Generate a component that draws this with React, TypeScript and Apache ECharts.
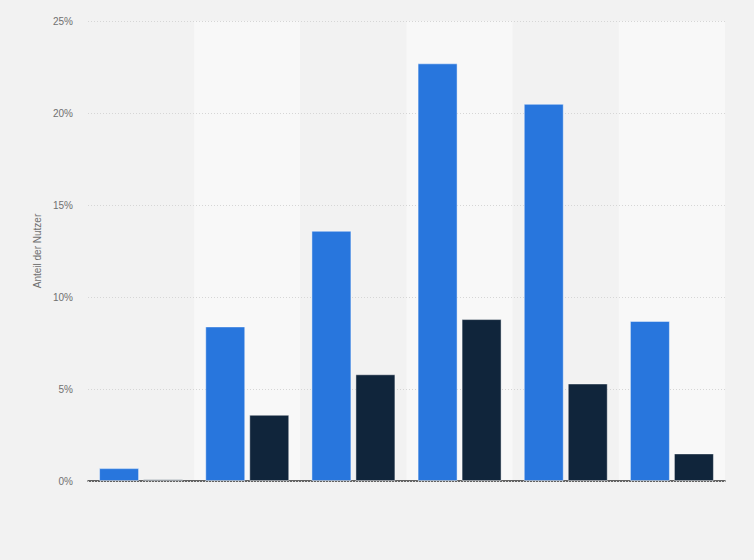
import { useEffect, useRef } from 'react';
import * as echarts from 'echarts';

// categories have no visible labels in the chart
const categories = ['A', 'B', 'C', 'D', 'E', 'F'];
const seriesOne = [0.7, 8.4, 13.6, 22.7, 20.5, 8.7];
const seriesTwo = [0.1, 3.6, 5.8, 8.8, 5.3, 1.5];

const App = () => {
    const chartRef = useRef<HTMLDivElement>(null);

    useEffect(() => {
        if (!chartRef.current) return;
        const chart = echarts.init(chartRef.current, undefined, { renderer: 'svg' });

        chart.setOption({
            animation: false,
            backgroundColor: '#f2f2f2',
            grid: { left: 88, right: 29, top: 21, bottom: 79 },
            xAxis: {
                type: 'category',
                data: categories,
                z: 0,
                axisLabel: { show: false },
                axisTick: { show: false },
                axisLine: { lineStyle: { color: '#333333', width: 1.5 } },
                splitArea: { show: true, areaStyle: { color: ['#f2f2f2', '#f8f8f8'] } }
            },
            yAxis: {
                type: 'value',
                min: 0,
                max: 25,
                interval: 5,
                z: 1,
                name: 'Anteil der Nutzer',
                nameLocation: 'middle',
                nameGap: 43,
                nameTextStyle: { color: '#707070', fontSize: 10, fontFamily: 'Arial, Liberation Sans, sans-serif' },
                axisLabel: {
                    formatter: '{value}%',
                    color: '#707070',
                    fontSize: 10,
                    margin: 15,
                    fontFamily: 'Arial, Liberation Sans, sans-serif'
                },
                axisLine: { show: false },
                axisTick: { show: false },
                splitLine: { lineStyle: { color: '#d6d6d6', type: [1, 2] } }
            },
            series: [
                {
                    type: 'bar',
                    data: seriesOne,
                    barWidth: 40,
                    barGap: '10%',
                    z: 2,
                    itemStyle: { color: '#2876dd', borderColor: 'rgba(255,255,255,0.45)', borderWidth: 1 }
                },
                {
                    type: 'bar',
                    data: seriesTwo,
                    barWidth: 40,
                    z: 2,
                    itemStyle: { color: '#10253b', borderColor: 'rgba(255,255,255,0.45)', borderWidth: 1 }
                }
            ]
        });

        return () => {
            chart.dispose();
        };
    }, []);

    return (
        <div style={{ position: 'fixed', left: 0, top: 0, width: 754, height: 560, background: '#f2f2f2' }}>
            <div ref={chartRef} style={{ width: '754px', height: '560px' }} />
        </div>
    );
};

export default App;
